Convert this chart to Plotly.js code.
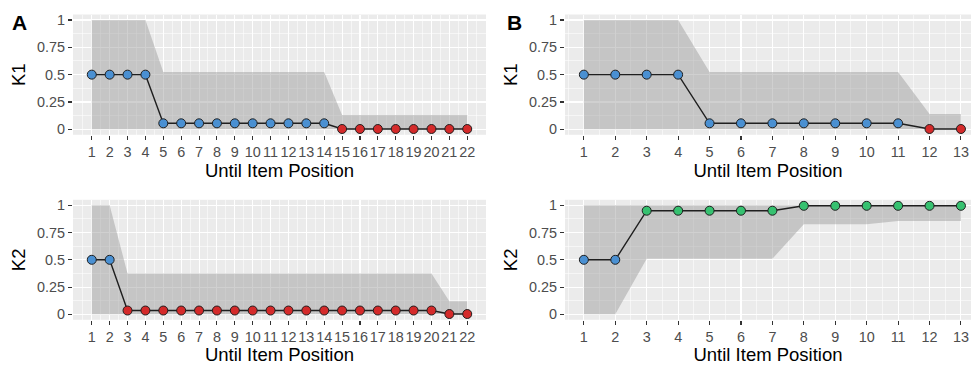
<!DOCTYPE html>
<html>
<head>
<meta charset="utf-8">
<script src="https://cdn.plot.ly/plotly-3.0.1.min.js"></script>
<style>html,body{margin:0;padding:0;background:#fff;}#chart{width:971px;height:365px;}</style>
</head>
<body>
<div id="chart"></div>
<script>
// ---- data ----
const posA = [1,2,3,4,5,6,7,8,9,10,11,12,13,14,15,16,17,18,19,20,21,22];
const posB = [1,2,3,4,5,6,7,8,9,10,11,12,13];
const xTickLabelsA = posA.map(String);
const xTickLabelsB = posB.map(String);
const yTickVals = [0, 0.25, 0.5, 0.75, 1];
const yTickLabels = ["0", "0.25", "0.5", "0.75", "1"];

// Panel A, K1
const aK1 = [0.5,0.5,0.5,0.5,0.055,0.055,0.055,0.055,0.055,0.055,0.055,0.055,0.055,0.055,0.003,0.003,0.003,0.003,0.003,0.003,0.003,0.003];
const aK1Lower = [0,0,0,0,0,0,0,0,0,0,0,0,0,0,0,0,0,0,0,0,0,0];
const aK1Upper = [1,1,1,1,0.525,0.525,0.525,0.525,0.525,0.525,0.525,0.525,0.525,0.525,0.13,0.13,0.13,0.13,0.13,0.13,0.13,0.13];
const aK1Group = ["b","b","b","b","b","b","b","b","b","b","b","b","b","b","r","r","r","r","r","r","r","r"];

// Panel A, K2
const aK2 = [0.5,0.5,0.035,0.035,0.035,0.035,0.035,0.035,0.035,0.035,0.035,0.035,0.035,0.035,0.035,0.035,0.035,0.035,0.035,0.035,0.003,0.003];
const aK2Lower = [0,0,0,0,0,0,0,0,0,0,0,0,0,0,0,0,0,0,0,0,0,0];
const aK2Upper = [1,1,0.375,0.375,0.375,0.375,0.375,0.375,0.375,0.375,0.375,0.375,0.375,0.375,0.375,0.375,0.375,0.375,0.375,0.375,0.12,0.12];
const aK2Group = ["b","b","r","r","r","r","r","r","r","r","r","r","r","r","r","r","r","r","r","r","r","r"];

// Panel B, K1
const bK1 = [0.5,0.5,0.5,0.5,0.055,0.055,0.055,0.055,0.055,0.055,0.055,0.003,0.003];
const bK1Lower = [0,0,0,0,0,0,0,0,0,0,0,0,0];
const bK1Upper = [1,1,1,1,0.525,0.525,0.525,0.525,0.525,0.525,0.525,0.14,0.14];
const bK1Group = ["b","b","b","b","b","b","b","b","b","b","b","r","r"];

// Panel B, K2
const bK2 = [0.5,0.5,0.95,0.95,0.95,0.95,0.95,0.995,0.995,0.995,0.995,0.995,0.995];
const bK2Lower = [0,0,0.51,0.51,0.51,0.51,0.51,0.826,0.826,0.826,0.856,0.856,0.856];
const bK2Upper = [1,1,1,1,1,1,1,1,1,1,1,1,1];
const bK2Group = ["b","b","g","g","g","g","g","g","g","g","g","g","g"];

// ---- styles ----
const groupColor = {b: "#4a90d2", r: "#d42a2a", g: "#36c170"};
const ribbonFill = "rgba(150,150,150,0.45)";
const FONT = "Liberation Sans, Arial, sans-serif";

function panelTraces(x, y, lo, hi, grp, xa, ya) {
  return [
    {x: x, y: lo, xaxis: xa, yaxis: ya, type: "scatter", mode: "lines",
     line: {width: 0, color: "rgba(0,0,0,0)"}, hoverinfo: "skip"},
    {x: x, y: hi, xaxis: xa, yaxis: ya, type: "scatter", mode: "lines",
     fill: "tonexty", fillcolor: ribbonFill,
     line: {width: 0, color: "rgba(0,0,0,0)"}, hoverinfo: "skip"},
    {x: x, y: y, xaxis: xa, yaxis: ya, type: "scatter", mode: "lines+markers",
     cliponaxis: false,
     line: {color: "#1f1f1f", width: 1.4},
     marker: {size: 9, color: grp.map(g => groupColor[g]),
              line: {color: "#1f1f1f", width: 1}}}
  ];
}

const W = 971, H = 365;
const domA = [73 / W, 486 / W];
const domB = [565 / W, 1];
const domTop = [1 - 134.8 / H, 1 - 14.5 / H];
const domBot = [1 - 319.8 / H, 1 - 199.8 / H];

function xAxis(dom, range, vals, labels, anchor) {
  return {
    domain: dom, range: range, anchor: anchor,
    tickmode: "array", tickvals: vals, ticktext: labels, tickangle: 0,
    ticks: "outside", ticklen: 4, tickwidth: 1.1, tickcolor: "#333333",
    tickfont: {family: FONT, size: 14.4, color: "#4d4d4d"},
    showgrid: true, gridcolor: "#ffffff", gridwidth: 1.1,
    minor: {tick0: 0.5, dtick: 1, showgrid: true, gridcolor: "#ffffff", gridwidth: 0.55, ticks: ""},
    zeroline: false, showline: false, fixedrange: true,
    title: {text: "Until Item Position", font: {family: FONT, size: 18.5, color: "#000000"}, standoff: 4}
  };
}
function yAxis(dom, title, anchor) {
  return {
    domain: dom, range: [-0.05, 1.05], anchor: anchor,
    tickmode: "array", tickvals: yTickVals, ticktext: yTickLabels,
    ticks: "outside", ticklen: 4, tickwidth: 1.1, tickcolor: "#333333",
    tickfont: {family: FONT, size: 14.4, color: "#4d4d4d"},
    showgrid: true, gridcolor: "#ffffff", gridwidth: 1.1,
    minor: {tick0: 0.125, dtick: 0.25, showgrid: true, gridcolor: "#ffffff", gridwidth: 0.55, ticks: ""},
    zeroline: false, showline: false, fixedrange: true,
    title: {text: title, font: {family: FONT, size: 18.5, color: "#000000"}, standoff: 6}
  };
}

const data = [].concat(
  panelTraces(posA, aK1, aK1Lower, aK1Upper, aK1Group, "x", "y"),
  panelTraces(posB, bK1, bK1Lower, bK1Upper, bK1Group, "x2", "y2"),
  panelTraces(posA, aK2, aK2Lower, aK2Upper, aK2Group, "x3", "y3"),
  panelTraces(posB, bK2, bK2Lower, bK2Upper, bK2Group, "x4", "y4")
);

const layout = {
  width: W, height: H,
  margin: {l: 0, r: 0, t: 0, b: 0, pad: 0},
  paper_bgcolor: "#ffffff", plot_bgcolor: "#ebebeb",
  showlegend: false,
  font: {family: FONT},
  xaxis:  xAxis(domA, [-0.05, 23.05], posA, xTickLabelsA, "y"),
  xaxis2: xAxis(domB, [0.4, 13.32], posB, xTickLabelsB, "y2"),
  xaxis3: xAxis(domA, [-0.05, 23.05], posA, xTickLabelsA, "y3"),
  xaxis4: xAxis(domB, [0.4, 13.32], posB, xTickLabelsB, "y4"),
  yaxis:  yAxis(domTop, "K1", "x"),
  yaxis2: yAxis(domTop, "K1", "x2"),
  yaxis3: yAxis(domBot, "K2", "x3"),
  yaxis4: yAxis(domBot, "K2", "x4"),
  annotations: [
    {text: "<b>A</b>", xref: "paper", yref: "paper", x: 10 / W, y: 1 - 22.5 / H,
     xanchor: "left", yanchor: "middle", showarrow: false,
     font: {family: FONT, size: 21, color: "#000000"}},
    {text: "<b>B</b>", xref: "paper", yref: "paper", x: 505 / W, y: 1 - 22.5 / H,
     xanchor: "left", yanchor: "middle", showarrow: false,
     font: {family: FONT, size: 21, color: "#000000"}}
  ]
};

Plotly.newPlot("chart", data, layout, {staticPlot: true, displayModeBar: false});
</script>
</body>
</html>
